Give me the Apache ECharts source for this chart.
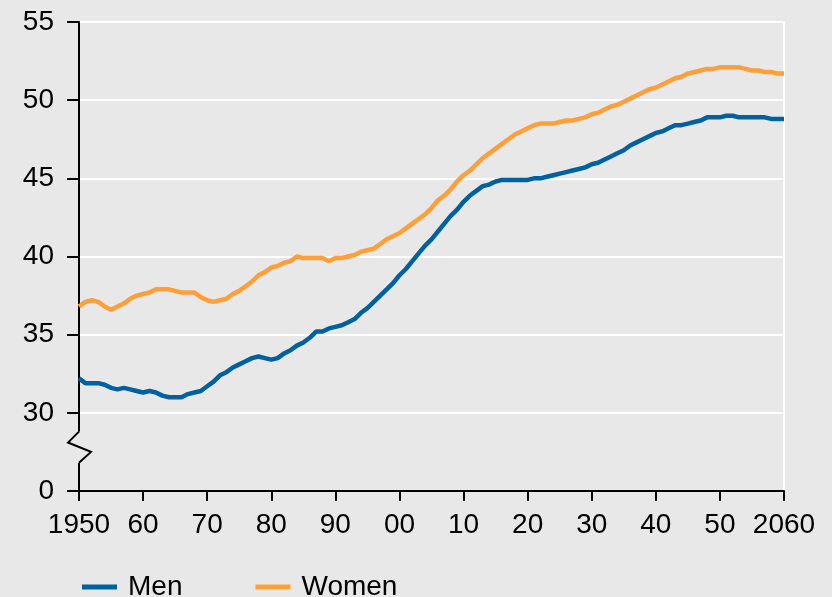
<!DOCTYPE html>
<html>
<head>
<meta charset="utf-8">
<script src="https://cdn.jsdelivr.net/npm/echarts@6/dist/echarts.min.js"></script>
<style>
  html, body { margin: 0; padding: 0; background: #e8e8e8; }
  #chart { width: 832px; height: 597px; }
</style>
</head>
<body>
<div id="chart"></div>
<script>
// Median age by sex, 1950–2060 (annual values)
const years = [];
for (let y = 1950; y <= 2060; y++) years.push(y);

const men = [
  32.2, 31.9, 31.9, 31.9, 31.8, 31.6, 31.5, 31.6, 31.5, 31.4,
  31.3, 31.4, 31.3, 31.1, 31.0, 31.0, 31.0, 31.2, 31.3, 31.4,
  31.7, 32.0, 32.4, 32.6, 32.9, 33.1, 33.3, 33.5, 33.6, 33.5,
  33.4, 33.5, 33.8, 34.0, 34.3, 34.5, 34.8, 35.2, 35.2, 35.4,
  35.5, 35.6, 35.8, 36.0, 36.4, 36.7, 37.1, 37.5, 37.9, 38.3,
  38.8, 39.2, 39.7, 40.2, 40.7, 41.1, 41.6, 42.1, 42.6, 43.0,
  43.5, 43.9, 44.2, 44.5, 44.6, 44.8, 44.9, 44.9, 44.9, 44.9,
  44.9, 45.0, 45.0, 45.1, 45.2, 45.3, 45.4, 45.5, 45.6, 45.7,
  45.9, 46.0, 46.2, 46.4, 46.6, 46.8, 47.1, 47.3, 47.5, 47.7,
  47.9, 48.0, 48.2, 48.4, 48.4, 48.5, 48.6, 48.7, 48.9, 48.9,
  48.9, 49.0, 49.0, 48.9, 48.9, 48.9, 48.9, 48.9, 48.8, 48.8,
  48.8
];

const women = [
  36.8, 37.1, 37.2, 37.1, 36.8, 36.6, 36.8, 37.0, 37.3, 37.5,
  37.6, 37.7, 37.9, 37.9, 37.9, 37.8, 37.7, 37.7, 37.7, 37.4,
  37.2, 37.1, 37.2, 37.3, 37.6, 37.8, 38.1, 38.4, 38.8, 39.0,
  39.3, 39.4, 39.6, 39.7, 40.0, 39.9, 39.9, 39.9, 39.9, 39.7,
  39.9, 39.9, 40.0, 40.1, 40.3, 40.4, 40.5, 40.8, 41.1, 41.3,
  41.5, 41.8, 42.1, 42.4, 42.7, 43.1, 43.6, 43.9, 44.3, 44.8,
  45.2, 45.5, 45.9, 46.3, 46.6, 46.9, 47.2, 47.5, 47.8, 48.0,
  48.2, 48.4, 48.5, 48.5, 48.5, 48.6, 48.7, 48.7, 48.8, 48.9,
  49.1, 49.2, 49.4, 49.6, 49.7, 49.9, 50.1, 50.3, 50.5, 50.7,
  50.8, 51.0, 51.2, 51.4, 51.5, 51.7, 51.8, 51.9, 52.0, 52.0,
  52.1, 52.1, 52.1, 52.1, 52.0, 51.9, 51.9, 51.8, 51.8, 51.7,
  51.7
];

// The y axis is broken: the bottom step stands for the 0 baseline.
const Y_BREAK_VALUE = 25;
const yTickLabels = { 25: '0', 30: '30', 35: '35', 40: '40', 45: '45', 50: '50', 55: '55' };
const xTickLabels = {
  1950: '1950', 1960: '60', 1970: '70', 1980: '80', 1990: '90', 2000: '00',
  2010: '10', 2020: '20', 2030: '30', 2040: '40', 2050: '50', 2060: '2060'
};

const FONT = '"Liberation Sans", Arial, sans-serif';
const FONT_SIZE = 28;
const BG = '#e8e8e8';
const MEN_COLOR = '#0061a0';
const WOMEN_COLOR = '#ff9f3a';

const chart = echarts.init(document.getElementById('chart'), null, { renderer: 'canvas' });

const option = {
  backgroundColor: BG,
  animation: false,
  textStyle: { fontFamily: FONT },
  grid: {
    left: 79, right: 48, top: 22, bottom: 106,
    show: true, borderColor: '#ffffff', borderWidth: 2, backgroundColor: BG
  },
  legend: {
    left: 82, top: 573, padding: 0,
    itemWidth: 35, itemHeight: 5, itemGap: 73,
    icon: 'rect',
    textStyle: { fontFamily: FONT, fontSize: FONT_SIZE, color: '#000', padding: [0, 0, 0, 6] },
    data: ['Men', 'Women']
  },
  xAxis: {
    type: 'value', min: 1950, max: 2060, interval: 10,
    axisLine: { show: true, lineStyle: { color: '#000', width: 2 } },
    axisTick: { show: true, length: 10, lineStyle: { color: '#000', width: 2 } },
    axisLabel: {
      fontFamily: FONT, fontSize: FONT_SIZE, color: '#000', margin: 20,
      formatter: v => xTickLabels[v] ?? ''
    },
    splitLine: { show: false }
  },
  yAxis: {
    type: 'value', min: Y_BREAK_VALUE, max: 55, interval: 5,
    axisLine: { show: true, lineStyle: { color: '#000', width: 2 } },
    axisTick: { show: true, length: 12, lineStyle: { color: '#000', width: 2 } },
    axisLabel: {
      fontFamily: FONT, fontSize: FONT_SIZE, color: '#000', margin: 25,
      formatter: v => yTickLabels[v] ?? ''
    },
    splitLine: { show: true, lineStyle: { color: '#ffffff', width: 2 } }
  },
  series: [
    {
      name: 'Men', type: 'line', showSymbol: false, symbol: 'none',
      data: years.map((y, i) => [y, men[i]]),
      lineStyle: { color: MEN_COLOR, width: 4.5 },
      itemStyle: { color: MEN_COLOR },
      z: 3
    },
    {
      name: 'Women', type: 'line', showSymbol: false, symbol: 'none',
      data: years.map((y, i) => [y, women[i]]),
      lineStyle: { color: WOMEN_COLOR, width: 4.5 },
      itemStyle: { color: WOMEN_COLOR },
      z: 2
    }
  ]
};

chart.setOption(option);

// Axis-break zigzag between the 0 baseline and 30
function drawBreak() {
  const top = chart.convertToPixel({ yAxisIndex: 0 }, 28.8);
  const bot = chart.convertToPixel({ yAxisIndex: 0 }, 26.8);
  const x = chart.convertToPixel({ xAxisIndex: 0 }, 1950);
  const h = bot - top;
  chart.setOption({
    graphic: [
      {
        type: 'rect', z: 100,
        shape: { x: x - 2, y: top, width: 4, height: h },
        style: { fill: BG }
      },
      {
        type: 'polyline', z: 101,
        shape: {
          points: [
            [x, top],
            [x - 11, top + h * 0.35],
            [x + 12, top + h * 0.65],
            [x, bot]
          ]
        },
        style: { stroke: '#000', lineWidth: 2, fill: null }
      }
    ]
  });
}
drawBreak();
</script>
</body>
</html>
